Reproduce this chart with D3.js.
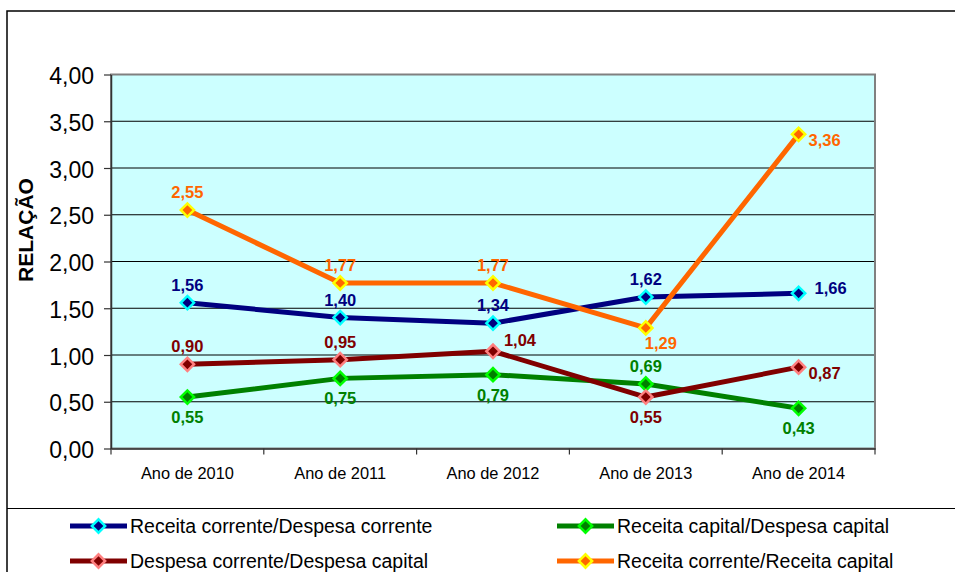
<!DOCTYPE html>
<html>
<head>
<meta charset="utf-8">
<script src="https://cdn.jsdelivr.net/npm/d3@7"></script>
<style>
  body { margin: 0; background: #fff; }
  svg { display: block; font-family: "Liberation Sans", Arial, sans-serif; }
</style>
</head>
<body>
<div id="chart"></div>
<script>
// Categories and series values
const categories = ["Ano de 2010", "Ano de 2011", "Ano de 2012", "Ano de 2013", "Ano de 2014"];
const seriesNames = [
  "Receita corrente/Despesa corrente",
  "Receita capital/Despesa capital",
  "Despesa corrente/Despesa capital",
  "Receita corrente/Receita capital"
];
const rcDc = [1.56, 1.40, 1.34, 1.62, 1.66];
const rkDk = [0.55, 0.75, 0.79, 0.69, 0.43];
const dcDk = [0.90, 0.95, 1.04, 0.55, 0.87];
const rcRk = [2.55, 1.77, 1.77, 1.29, 3.36];
const yTicks = [0, 0.5, 1, 1.5, 2, 2.5, 3, 3.5, 4];

// where each data label sits relative to its marker
const rcDcPos = ["t", "t", "t", "t", "rc"];
const rkDkPos = ["b", "b", "b", "t", "b"];
const dcDkPos = ["t", "t", "tr", "b", "r"];
const rcRkPos = ["t", "t", "t", "br", "r"];

const series = [
  {name: seriesNames[0], values: rcDc, pos: rcDcPos, line: "#000080", edge: "#00ffff", label: "#000080"},
  {name: seriesNames[1], values: rkDk, pos: rkDkPos, line: "#008000", edge: "#00ff00", label: "#008000"},
  {name: seriesNames[2], values: dcDk, pos: dcDkPos, line: "#800000", edge: "#ff8080", label: "#800000"},
  {name: seriesNames[3], values: rcRk, pos: rcRkPos, line: "#ff6600", edge: "#ffff00", label: "#ff6600"}
];

const offsets = {
  t:  {dx: 0,  dy: -12},
  b:  {dx: 0,  dy: 26},
  r:  {dx: 26, dy: 12},
  rc: {dx: 32, dy: 1},
  tr: {dx: 27, dy: -5},
  br: {dx: 15, dy: 21}
};

const W = 955, H = 572;
const plot = {left: 111, right: 875, top: 74.5, bottom: 448.5};

const svg = d3.select("#chart").append("svg")
  .attr("width", W)
  .attr("height", H);

// outer chart frame and legend separator
svg.append("rect")
  .attr("x", 7).attr("y", 11)
  .attr("width", W + 20).attr("height", H + 20)
  .attr("fill", "none")
  .attr("stroke", "#000")
  .attr("stroke-width", 1.5);

svg.append("line")
  .attr("x1", 7).attr("x2", W)
  .attr("y1", 508.5).attr("y2", 508.5)
  .attr("stroke", "#000")
  .attr("stroke-width", 1.2);

const x = d3.scaleBand()
  .domain(categories)
  .range([plot.left, plot.right]);

const y = d3.scaleLinear()
  .domain([0, 4])
  .range([plot.bottom, plot.top]);

const fmt = v => d3.format(".2f")(v).replace(".", ",");

// plot background
svg.append("rect")
  .attr("x", plot.left).attr("y", plot.top)
  .attr("width", plot.right - plot.left)
  .attr("height", plot.bottom - plot.top)
  .attr("fill", "#ccffff");

// gridlines
svg.append("g")
  .selectAll("line")
  .data(yTicks.slice(1))
  .join("line")
  .attr("x1", plot.left).attr("x2", plot.right)
  .attr("y1", d => y(d)).attr("y2", d => y(d))
  .attr("stroke", "#000")
  .attr("stroke-width", 1);

// plot border
svg.append("rect")
  .attr("x", plot.left).attr("y", plot.top)
  .attr("width", plot.right - plot.left)
  .attr("height", plot.bottom - plot.top)
  .attr("fill", "none")
  .attr("stroke", "#808080")
  .attr("stroke-width", 2);

// Y axis
const yAxis = svg.append("g")
  .attr("transform", `translate(${plot.left},0)`)
  .call(d3.axisLeft(y).tickValues(yTicks).tickFormat(fmt).tickSize(7).tickSizeOuter(0));
yAxis.select(".domain").attr("stroke", "#333").attr("stroke-width", 1.5);
yAxis.selectAll(".tick line").attr("stroke", "#333").attr("stroke-width", 1.2);
yAxis.selectAll("text")
  .attr("x", -17)
  .attr("dy", "0.4em")
  .style("font-size", "23px")
  .style("font-family", "'Liberation Sans', Arial, sans-serif")
  .attr("fill", "#000");

// X axis
const xAxis = svg.append("g")
  .attr("transform", `translate(0,${plot.bottom})`)
  .call(d3.axisBottom(x).tickSize(0).tickSizeOuter(0));
xAxis.select(".domain").attr("stroke", "#333").attr("stroke-width", 1.5);
xAxis.selectAll("text")
  .attr("y", 19)
  .attr("dy", "0.71em")
  .style("font-size", "16.4px")
  .style("font-family", "'Liberation Sans', Arial, sans-serif")
  .attr("fill", "#000");

// tick marks at band boundaries
const boundaries = categories.map(c => x(c)).concat([x(categories[categories.length - 1]) + x.bandwidth()]);
svg.append("g")
  .selectAll("line")
  .data(boundaries)
  .join("line")
  .attr("x1", d => d).attr("x2", d => d)
  .attr("y1", plot.bottom).attr("y2", plot.bottom + 6)
  .attr("stroke", "#333")
  .attr("stroke-width", 1.2);

// Y axis title
svg.append("text")
  .attr("transform", "translate(33,230) rotate(-90)")
  .attr("text-anchor", "middle")
  .style("font-size", "21px")
  .style("font-weight", "bold")
  .text("RELAÇÃO");

const cx = (i) => x(categories[i]) + x.bandwidth() / 2;
const diamond = d3.symbol().type(d3.symbolSquare).size(88);

const line = d3.line()
  .x((d, i) => cx(i))
  .y(d => y(d));

// series lines and markers
series.forEach(s => {
  const g = svg.append("g");
  g.append("path")
    .datum(s.values)
    .attr("d", line)
    .attr("fill", "none")
    .attr("stroke", s.line)
    .attr("stroke-width", 5)
    .attr("stroke-linejoin", "round");

  g.selectAll("path.marker")
    .data(s.values)
    .join("path")
    .attr("class", "marker")
    .attr("d", diamond)
    .attr("transform", (d, i) => `translate(${cx(i)},${y(d)}) rotate(45)`)
    .attr("fill", s.line)
    .attr("stroke", s.edge)
    .attr("stroke-width", 2.5);
});

// data labels drawn last so they stay readable
series.forEach(s => {
  svg.append("g")
    .selectAll("text")
    .data(s.values)
    .join("text")
    .attr("x", (d, i) => cx(i) + offsets[s.pos[i]].dx)
    .attr("y", (d, i) => y(d) + offsets[s.pos[i]].dy)
    .attr("text-anchor", "middle")
    .style("font-size", "16.5px")
    .style("font-weight", "bold")
    .attr("fill", s.label)
    .text(d => fmt(d));
});

// legend
const legendCols = [70, 557];
const legendRows = [533, 568];
series.forEach((s, i) => {
  const lx = legendCols[i % 2];
  const ly = legendRows[Math.floor(i / 2)] - 7;
  const g = svg.append("g").attr("transform", `translate(${lx},${ly})`);
  g.append("line")
    .attr("x1", 0).attr("x2", 57)
    .attr("y1", 0).attr("y2", 0)
    .attr("stroke", s.line)
    .attr("stroke-width", 5);
  g.append("path")
    .attr("d", diamond)
    .attr("transform", "translate(28.5,0) rotate(45)")
    .attr("fill", s.line)
    .attr("stroke", s.edge)
    .attr("stroke-width", 2.5);
  g.append("text")
    .attr("x", 60)
    .attr("y", 7)
    .style("font-size", "19.5px")
    .attr("fill", "#000")
    .text(s.name);
});
</script>
</body>
</html>
